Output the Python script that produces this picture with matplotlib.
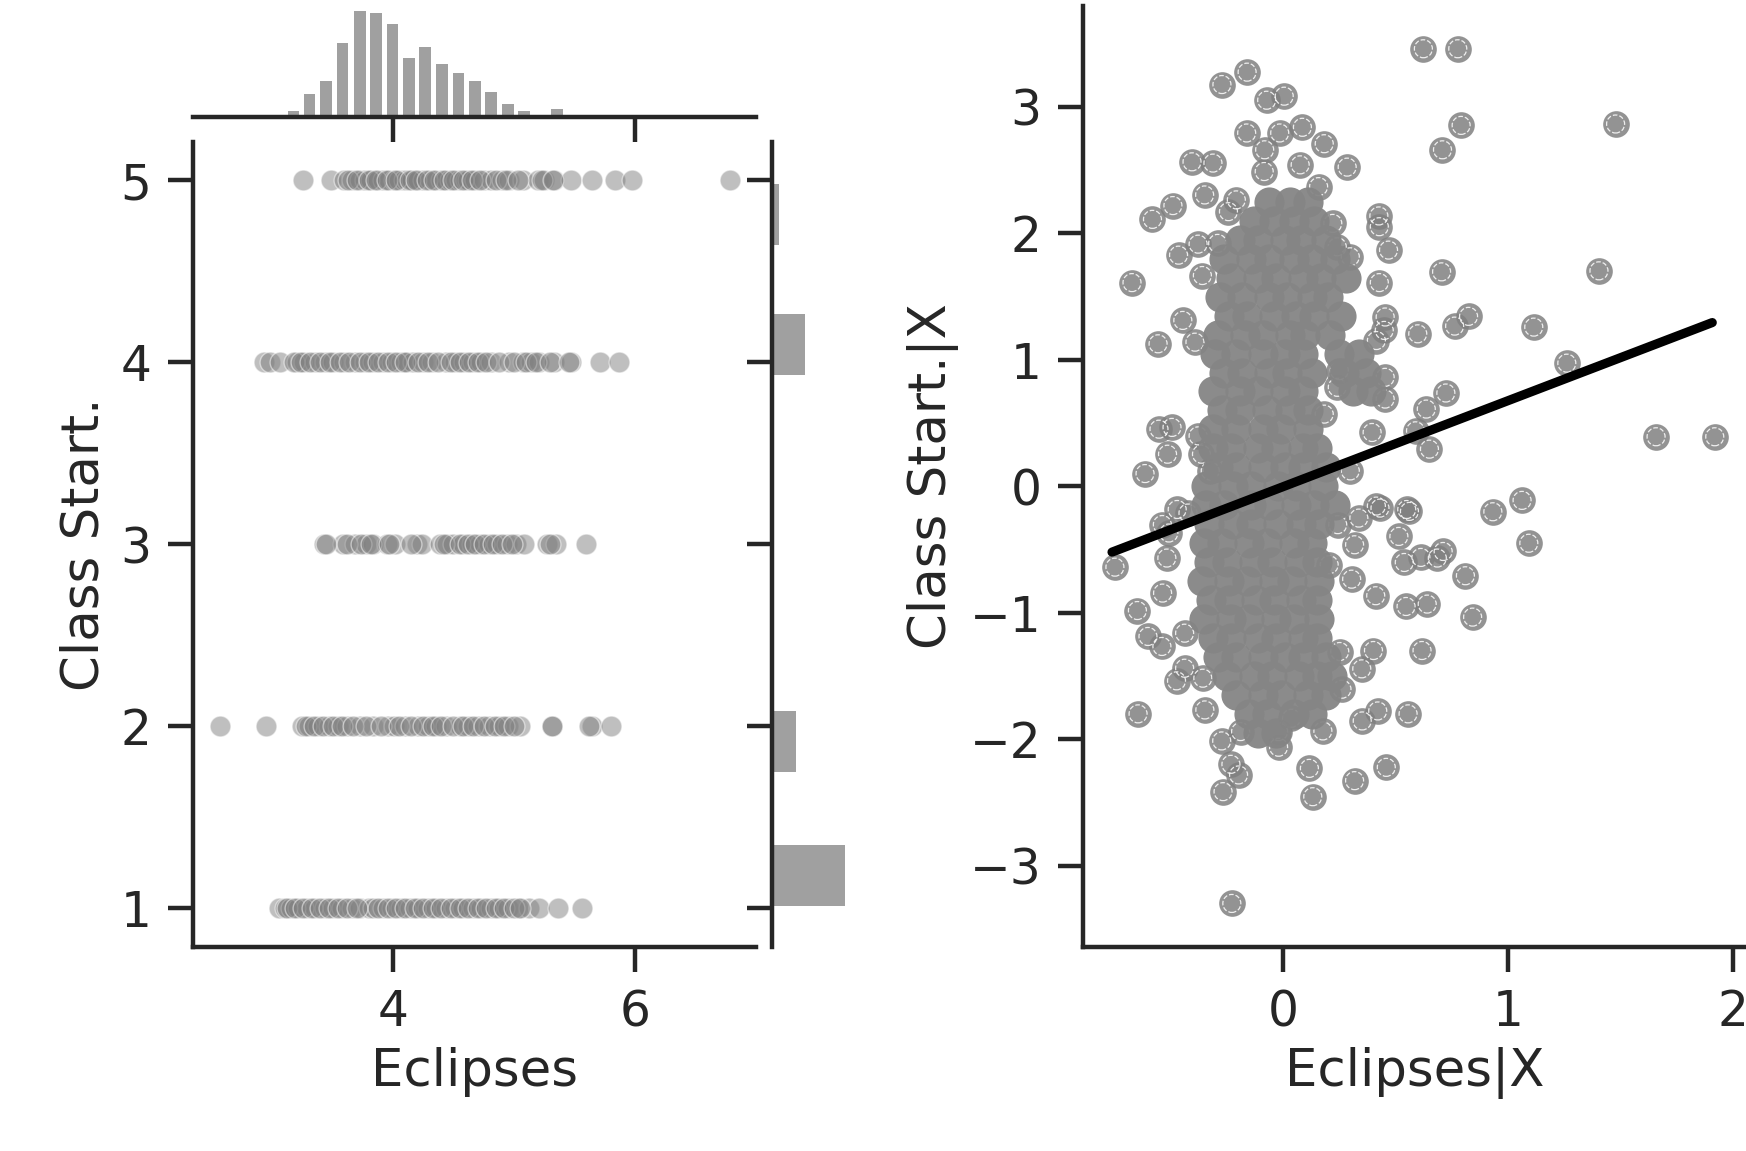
import numpy as np
import matplotlib.pyplot as plt

# ---- left panel: joint plot of Eclipses vs Class Start. ----
eclipses_c1 = [3.06, 3.11, 3.16, 3.22, 3.29, 3.36, 3.44, 3.51, 3.58, 3.66, 3.73, 3.80, 3.84,
               3.92, 3.99, 4.07, 4.14, 4.21, 4.29, 4.36, 4.44, 4.51, 4.58, 4.66, 4.73, 4.81,
               4.88, 4.95, 5.03, 5.12, 5.21, 5.36, 5.56,
               3.13, 3.19, 3.26, 3.33, 3.40, 3.47, 3.55, 3.62, 3.70, 3.88, 3.96, 4.03, 4.10,
               4.18, 4.25, 4.33, 4.40, 4.48, 4.55, 4.62, 4.70, 4.77, 4.85, 4.92, 5.00, 5.05]
eclipses_c2 = [2.57, 2.95, 3.25, 3.31, 3.38, 3.47, 3.55, 3.62, 3.73, 3.84, 3.96, 4.01, 4.10,
               4.21, 4.29, 4.36, 4.44, 4.55, 4.62, 4.70, 4.79, 4.88, 4.95, 5.05, 5.31, 5.64, 5.80,
               3.28, 3.35, 3.42, 3.51, 3.58, 3.67, 3.78, 3.90, 4.05, 4.15, 4.25, 4.33, 4.40,
               4.50, 4.58, 4.66, 4.75, 4.84, 4.92, 5.00, 5.31, 5.62]
eclipses_c3 = [3.43, 3.59, 3.69, 3.78, 3.84, 3.95, 4.02, 4.20, 4.24, 4.39, 4.45, 4.50, 4.58,
               4.65, 4.72, 4.79, 4.86, 4.94, 5.02, 5.08, 5.27, 5.35, 5.59,
               3.45, 3.62, 3.74, 3.82, 3.97, 4.15, 4.42, 4.55, 4.62, 4.68, 4.75, 4.83, 4.90,
               4.98, 5.30]
eclipses_c4 = [2.94, 2.99, 3.07, 3.21, 3.27, 3.36, 3.44, 3.51, 3.60, 3.69, 3.77, 3.84, 3.92,
               3.99, 4.07, 4.12, 4.17, 4.25, 4.32, 4.44, 4.51, 4.59, 4.66, 4.73, 4.81, 4.96,
               5.07, 5.14, 5.21, 5.33, 5.47, 5.71, 5.87,
               3.18, 3.24, 3.32, 3.40, 3.48, 3.56, 3.64, 3.73, 3.80, 3.88, 3.96, 4.03, 4.10,
               4.21, 4.29, 4.37, 4.48, 4.55, 4.63, 4.70, 4.77, 4.88, 5.00, 5.10, 5.18, 5.30, 5.45]
eclipses_c5 = [3.26, 3.49, 3.60, 3.66, 3.73, 3.77, 3.82, 3.88, 3.92, 3.97, 4.01, 4.05, 4.09,
               4.12, 4.16, 4.21, 4.25, 4.31, 4.36, 4.40, 4.44, 4.47, 4.52, 4.55, 4.60, 4.62,
               4.68, 4.75, 4.81, 4.90, 4.96, 5.07, 5.20, 5.25, 5.33, 5.47, 5.64, 5.83, 5.97, 6.78,
               3.63, 3.70, 3.80, 3.86, 3.95, 4.03, 4.14, 4.19, 4.28, 4.34, 4.42, 4.50, 4.58,
               4.65, 4.72, 4.85, 4.93, 5.03, 5.23, 5.32]
class_levels = [1, 2, 3, 4, 5]

# marginal histograms
top_bin_centers = [3.180, 3.313, 3.449, 3.585, 3.728, 3.861, 3.997, 4.133, 4.266, 4.405,
                   4.541, 4.677, 4.810, 4.949, 5.082, 5.354]
top_bin_counts = [3, 11, 17, 35, 50, 49, 44, 28, 33, 25, 21, 17, 12, 6, 3, 4]
side_bin_centers = [1.18, 1.915, 3.0, 4.097, 4.81]
side_bin_counts = [42, 14, 1, 19, 4]

# ---- right panel: partial regression residuals ----
resid_x = [0.625, 0.778, -0.159, -0.271, -0.072, 0.006, -0.161, -0.014, 0.087, 0.184, -0.081,
           -0.404, -0.311, 0.286, -0.083, 0.077, 0.159, -0.348, -0.489, -0.580, -0.207, -0.242,
           0.427, 0.429, 0.470, -0.464, -0.377, -0.290, -0.671, -0.358, 0.706, 1.406, 0.710,
           0.793, 1.480, 0.429, 0.826, 0.764, 1.116, 0.600, -0.445, -0.555, -0.391, 0.455,
           0.451, 0.416, 0.222, 0.242, 0.300, 1.263, 0.725, 0.638, 0.590, 0.652, 0.455, 0.455,
           0.251, 0.242, 0.184, 0.397, -0.551, -0.493, -0.377, -0.513, -0.362, -0.613, -0.323,
           -0.536, -0.470, 0.416, 0.551, 0.300, 0.934, 1.064, 1.660, 1.921, 1.094,
           -0.747, -0.516, -0.535, -0.647, -0.600, -0.538, -0.437, -0.473, -0.356, -0.437,
           -0.644, -0.347, -0.272, -0.231, -0.197, -0.266, -0.227, -0.019, 0.118, 0.133, 0.319,
           0.460, 0.353, 0.422, 0.557, 0.263, 0.351, 0.253, 0.403, 0.619, 0.844, 0.548, 0.642,
           0.812, 0.713, 0.687, 0.540, 0.614, 0.516, 0.563, 0.413, 0.306, 0.206, 0.319, 0.244,
           0.338, 0.432, 0.178, 0.038, -0.019, -0.188, -0.422, -0.507]
resid_y = [3.460, 3.460, 3.275, 3.177, 3.053, 3.085, 2.794, 2.794, 2.839, 2.709, 2.661,
           2.566, 2.556, 2.524, 2.489, 2.542, 2.370, 2.304, 2.220, 2.111, 2.265, 2.172,
           2.138, 2.053, 1.868, 1.828, 1.915, 1.921, 1.611, 1.667, 1.696, 1.704, 2.661,
           2.854, 2.865, 1.611, 1.344, 1.267, 1.259, 1.206, 1.312, 1.127, 1.140, 1.339,
           1.233, 1.153, 2.079, 1.894, 1.815, 0.974, 0.738, 0.611, 0.439, 0.294, 0.690, 0.862,
           0.915, 0.783, 0.571, 0.426, 0.452, 0.466, 0.399, 0.254, 0.254, 0.101, 0.122,
           -0.302, -0.183, -0.156, -0.183, 0.122, -0.201, -0.111, 0.392, 0.392, -0.450,
           -0.639, -0.567, -0.844, -0.982, -1.187, -1.266, -1.161, -1.538, -1.517, -1.438,
           -1.799, -1.768, -2.013, -2.198, -2.282, -2.414, -3.298, -2.063, -2.230, -2.454, -2.327,
           -2.222, -1.855, -1.776, -1.799, -1.604, -1.443, -1.306, -1.298, -1.298, -1.034, -0.950, -0.931,
           -0.707, -0.515, -0.567, -0.602, -0.562, -0.396, -0.198, -0.865, -0.734, -0.620, -0.462, -0.303,
           -0.251, -0.172, -1.934, -1.834, -1.939, -1.939, -0.211, -0.369]

# dense core of the residual cloud, read row by row
core_row_y = [2.25, 2.10, 1.95, 1.80, 1.65, 1.50, 1.35, 1.20, 1.05, 0.90, 0.75, 0.60, 0.45,
              0.30, 0.15, 0.00, -0.15, -0.30, -0.45, -0.60, -0.75, -0.90, -1.05, -1.20,
              -1.35, -1.50, -1.65, -1.80, -1.95]
core_row_x = [
    [-0.06, 0.03, 0.11],
    [-0.13, -0.04, 0.05, 0.14],
    [-0.19, -0.11, 0.01, 0.08, 0.19],
    [-0.26, -0.14, -0.06, 0.05, 0.13, 0.23],
    [-0.23, -0.11, -0.03, 0.09, 0.17, 0.28],
    [-0.28, -0.18, -0.06, 0.02, 0.13, 0.20],
    [-0.24, -0.16, -0.04, 0.06, 0.14, 0.26],
    [-0.29, -0.17, -0.09, 0.03, 0.10, 0.21],
    [-0.30, -0.21, -0.09, 0.01, 0.09, 0.25, 0.34],
    [-0.26, -0.18, -0.06, 0.02, 0.13, 0.27, 0.37],
    [-0.31, -0.19, -0.11, 0.01, 0.09, 0.31, 0.39],
    [-0.27, -0.19, -0.07, 0.03, 0.11],
    [-0.31, -0.21, -0.09, -0.01, 0.11],
    [-0.31, -0.23, -0.11, -0.03, 0.09, 0.15],
    [-0.29, -0.21, -0.09, 0.01, 0.09, 0.19],
    [-0.34, -0.22, -0.14, -0.02, 0.06, 0.18],
    [-0.34, -0.26, -0.14, -0.06, 0.06, 0.14, 0.23],
    [-0.33, -0.22, -0.14, -0.02, 0.08, 0.16],
    [-0.35, -0.27, -0.15, -0.07, 0.05, 0.13],
    [-0.33, -0.25, -0.13, -0.05, 0.07, 0.15],
    [-0.36, -0.24, -0.16, -0.04, 0.04, 0.16],
    [-0.32, -0.24, -0.12, -0.04, 0.08, 0.15],
    [-0.35, -0.23, -0.15, -0.03, 0.05, 0.16],
    [-0.31, -0.23, -0.11, -0.03, 0.09, 0.15],
    [-0.29, -0.21, -0.09, 0.01, 0.09, 0.19],
    [-0.25, -0.13, -0.05, 0.07, 0.15, 0.22],
    [-0.21, -0.09, -0.01, 0.11, 0.19],
    [-0.15, -0.07, 0.05, 0.13],
    [-0.11, -0.03],
]

# fitted partial regression line (end points)
fit_x = [-0.76, 1.91]
fit_y = [-0.52, 1.295]

dark = '#262626'
plt.rcParams.update({
    'font.family': 'DejaVu Sans',
    'font.size': 18,
    'axes.labelsize': 18.5,
    'xtick.labelsize': 17.5,
    'ytick.labelsize': 17.5,
    'axes.linewidth': 1.6,
    'axes.edgecolor': dark,
    'axes.labelcolor': dark,
    'xtick.color': dark,
    'ytick.color': dark,
    'xtick.major.size': 9,
    'ytick.major.size': 9,
    'xtick.major.width': 1.6,
    'ytick.major.width': 1.6,
    'xtick.major.pad': 6,
    'ytick.major.pad': 6,
})

fig = plt.figure(figsize=(8.73, 5.755), dpi=200)

ax_main = fig.add_axes([0.1105, 0.1775, 0.3227, 0.6993])
ax_top = fig.add_axes([0.1105, 0.8982, 0.3227, 0.092], sharex=ax_main)
ax_side = fig.add_axes([0.4422, 0.1775, 0.0415, 0.6993], sharey=ax_main)
ax_r = fig.add_axes([0.6204, 0.1775, 0.3796, 0.8175])

# joint scatter
rows = [eclipses_c1, eclipses_c2, eclipses_c3, eclipses_c4, eclipses_c5]
for lvl, xs in zip(class_levels, rows):
    ax_main.scatter(xs, [lvl] * len(xs), s=56, color='gray', alpha=0.5,
                    edgecolors='white', linewidths=0.5)
ax_main.set_xlim(2.35, 7.0)
ax_main.set_ylim(0.79, 5.21)
ax_main.set_xticks([4, 6])
ax_main.set_yticks(class_levels)
ax_main.set_xlabel('Eclipses')
ax_main.set_ylabel('Class Start.')
for s in ['top', 'right']:
    ax_main.spines[s].set_visible(False)

# top marginal
ax_top.bar(top_bin_centers, top_bin_counts, width=0.095, color='#a0a0a0')
ax_top.set_ylim(0, max(top_bin_counts))
ax_top.tick_params(axis='x', labelbottom=False)
ax_top.set_yticks([])
for s in ['top', 'right', 'left']:
    ax_top.spines[s].set_visible(False)

# side marginal
ax_side.barh(side_bin_centers, side_bin_counts, height=0.334, color='#a0a0a0')
ax_side.set_xlim(0, max(side_bin_counts))
ax_side.tick_params(axis='y', labelleft=False)
ax_side.set_xticks([])
for s in ['top', 'right', 'bottom']:
    ax_side.spines[s].set_visible(False)

# partial regression plot
core_x = [x for xs in core_row_x for x in xs]
core_y = [y for y, xs in zip(core_row_y, core_row_x) for _ in xs]
ax_r.scatter(resid_x, resid_y, s=92, color='gray', alpha=0.85, linewidths=0, zorder=2)
ax_r.scatter(resid_x, resid_y, s=42, facecolors='none', edgecolors='white',
             linewidths=0.45, linestyle='--', alpha=0.85, zorder=2)
ax_r.scatter(core_x, core_y, s=118, color='#858585', alpha=0.95, linewidths=0, zorder=3)
ax_r.plot(fit_x, fit_y, color='black', lw=3.3, solid_capstyle='round', zorder=4)
ax_r.set_xlim(-0.888, 2.06)
ax_r.set_ylim(-3.64, 3.80)
ax_r.set_xticks([0, 1, 2])
ax_r.set_yticks([-3, -2, -1, 0, 1, 2, 3])
ax_r.set_xlabel('Eclipses|X')
ax_r.set_ylabel('Class Start.|X')
for s in ['top', 'right']:
    ax_r.spines[s].set_visible(False)

fig.savefig('out.png', dpi=200)
